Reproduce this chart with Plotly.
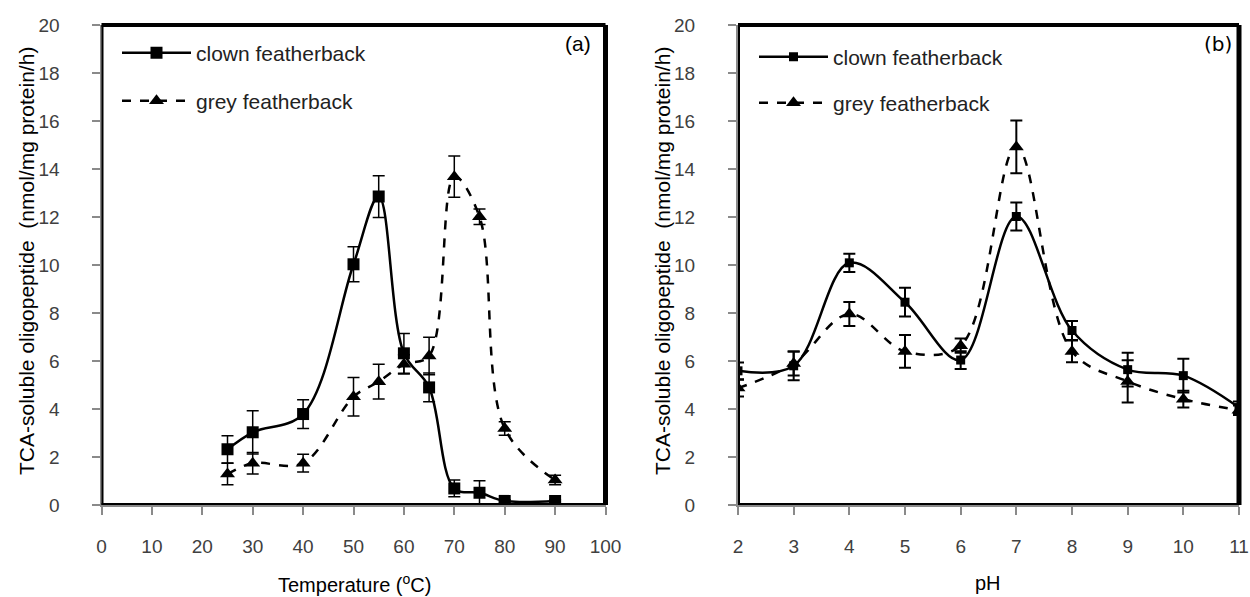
import plotly.graph_objects as go

# ---------------- data ----------------
temperature = [25, 30, 40, 50, 55, 60, 65, 70, 75, 80, 90]
clown_temp = [2.32, 3.03, 3.79, 10.03, 12.85, 6.32, 4.90, 0.69, 0.51, 0.17, 0.17]
clown_temp_err = [0.57, 0.90, 0.60, 0.73, 0.87, 0.83, 0.60, 0.35, 0.50, 0.05, 0.05]
grey_temp = [1.29, 1.74, 1.74, 4.51, 5.14, 5.86, 6.21, 13.68, 12.01, 3.19, 1.04]
grey_temp_err = [0.45, 0.45, 0.37, 0.80, 0.72, 0.40, 0.78, 0.86, 0.32, 0.28, 0.20]

ph = [2, 3, 4, 5, 6, 7, 8, 9, 10, 11]
clown_ph = [5.59, 5.80, 10.09, 8.45, 6.04, 12.02, 7.27, 5.64, 5.39, 4.06]
clown_ph_err = [0.35, 0.60, 0.38, 0.60, 0.37, 0.58, 0.40, 0.70, 0.70, 0.25]
grey_ph = [4.87, 5.90, 7.96, 6.40, 6.64, 14.92, 6.40, 5.15, 4.41, 3.95]
grey_ph_err = [0.35, 0.50, 0.50, 0.68, 0.30, 1.10, 0.45, 0.88, 0.35, 0.20]

x_ticks_a = list(range(0, 101, 10))
x_ticks_b = list(range(2, 12))
y_ticks = list(range(0, 21, 2))

series_names = ["clown featherback", "grey featherback"]
y_title = "TCA-soluble oligopeptide  (nmol/mg protein/h)"

# ---------------- layout geometry ----------------
W, H = 1250, 597
FONT = "Liberation Sans, Arial, sans-serif"
ax_a = [101.5 / W, 605.5 / W]
ax_b = [738 / W, 1239 / W]
ydom = [1 - 505 / H, 1 - 25 / H]

fig = go.Figure()

def add_series(x, y, err, name, xa, ya, symbol, size, dash, legend, ewidth, ethick):
    fig.add_trace(go.Scatter(
        x=x, y=y, name=name, mode="lines+markers",
        xaxis=xa, yaxis=ya, legend=legend,
        line=dict(color="black", width=2.5, dash=dash, shape="spline", smoothing=1),
        marker=dict(symbol=symbol, size=size, color="black"),
        error_y=dict(type="data", array=err, visible=True, color="black",
                     thickness=ethick, width=ewidth),
    ))

add_series(temperature, clown_temp, clown_temp_err, series_names[0], "x", "y",
           "square", 12, "solid", "legend", 6, 1.5)
add_series(temperature, grey_temp, grey_temp_err, series_names[1], "x", "y",
           "triangle-up", 13, "dash", "legend2", 6, 1.5)
add_series(ph, clown_ph, clown_ph_err, series_names[0], "x2", "y2",
           "square", 9, "solid", "legend3", 6, 2)
add_series(ph, grey_ph, grey_ph_err, series_names[1], "x2", "y2",
           "triangle-up", 13, "dash", "legend4", 6, 2)

axis_common = dict(
    showgrid=False, zeroline=False, showline=True, linecolor="#8a8a8a", linewidth=2,
    ticks="outside", ticklen=8, tickwidth=2, tickcolor="#8a8a8a",
    tickfont=dict(family=FONT, size=19, color="#404040"),
)

fig.update_layout(
    width=W, height=H, margin=dict(l=0, r=0, t=0, b=0, autoexpand=False),
    paper_bgcolor="white", plot_bgcolor="white",
    font=dict(family=FONT, color="black"),
    xaxis=dict(domain=ax_a, range=[0, 100], tickvals=x_ticks_a, anchor="y",
               ticklabelstandoff=15, **axis_common),
    yaxis=dict(domain=ydom, range=[0, 20], tickvals=y_ticks, anchor="x",
               ticklabelstandoff=28, **axis_common),
    xaxis2=dict(domain=ax_b, range=[2, 11], tickvals=x_ticks_b, anchor="y2",
                ticklabelstandoff=15, **axis_common),
    yaxis2=dict(domain=ydom, range=[0, 20], tickvals=y_ticks, anchor="x2",
                ticklabelstandoff=29, **axis_common),
    showlegend=True,
)

leg_common = dict(font=dict(family=FONT, size=21, color="#222222"), bgcolor="rgba(0,0,0,0)",
                  borderwidth=0, itemwidth=69, xanchor="left", yanchor="middle",
                  itemclick=False, itemdoubleclick=False)
fig.update_layout(
    legend=dict(x=117 / W, y=1 - 53 / H, **leg_common),
    legend2=dict(x=117 / W, y=1 - 101 / H, **leg_common),
    legend3=dict(x=754 / W, y=1 - 57 / H, **leg_common),
    legend4=dict(x=754 / W, y=1 - 103 / H, **leg_common),
)

# frame (thick black top/right, thin inner black left/bottom)
shapes = []
for xr, yr, wpx in [("x domain", "y domain", 504), ("x2 domain", "y2 domain", 501)]:
    shapes += [
        dict(type="line", xref=xr, yref=yr, x0=0, x1=1, y0=1, y1=1, line=dict(color="black", width=4)),
        dict(type="line", xref=xr, yref=yr, x0=1, x1=1, y0=0, y1=1, line=dict(color="black", width=5)),
        dict(type="line", xref=xr, yref=yr, x0=1 / wpx, x1=1 / wpx, y0=0, y1=1, line=dict(color="black", width=2)),
        dict(type="line", xref=xr, yref=yr, x0=0, x1=1, y0=1 / 480, y1=1 / 480, line=dict(color="black", width=2)),
    ]
fig.update_layout(shapes=shapes)

def note(text, x, y, size=21, family=FONT, angle=0):
    return dict(text=text, x=x / W, y=1 - y / H, xref="paper", yref="paper", showarrow=False,
                xanchor="center", yanchor="middle", textangle=angle,
                font=dict(family=family, size=size, color="black"))

ann = [
    note("(a)", 578, 44),
    note("(b)", 1218, 44, size=20, family="DejaVu Sans"),
    note(y_title, 26, 261, angle=-90),
    note(y_title, 662, 261, angle=-90),
    note("Temperature (<sup>o</sup>C)", 355, 583, size=20),
    note("pH", 988, 583, size=20),
]
fig.update_layout(annotations=ann)

fig.write_html(
    "out.html",
    post_script="document.body.style.margin='0';document.documentElement.style.overflow='hidden';",
)
